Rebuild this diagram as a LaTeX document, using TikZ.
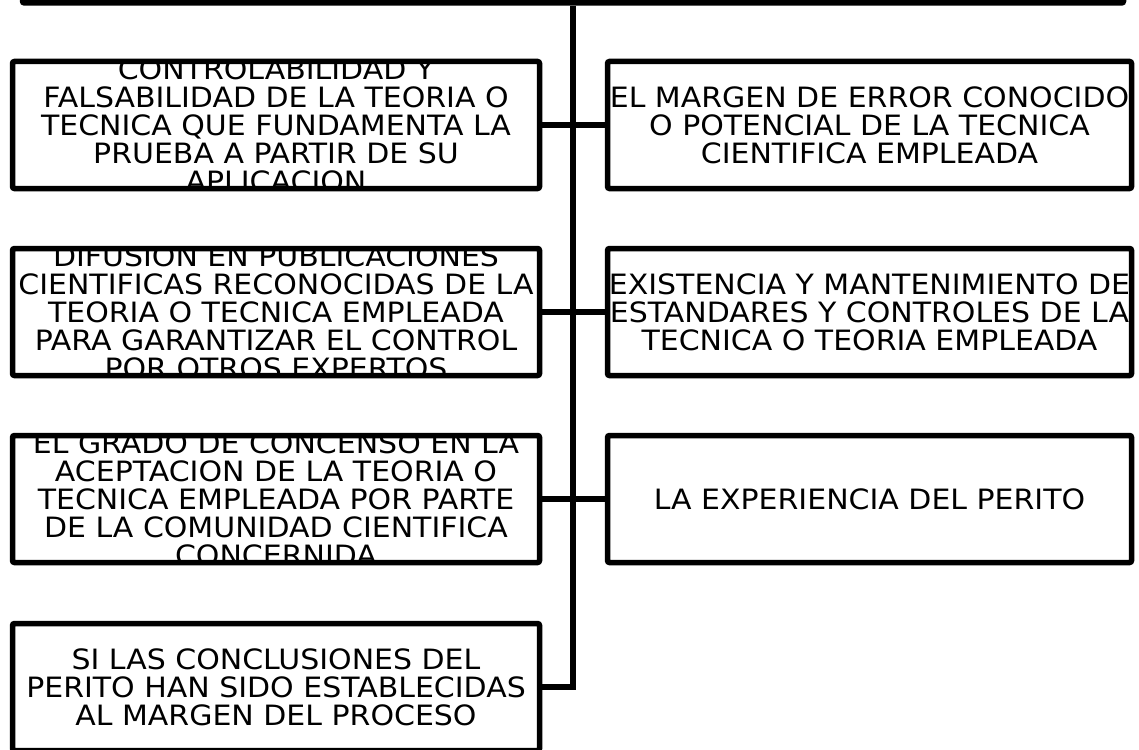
\documentclass[tikz,border=0pt]{standalone}
\usepackage{fontspec}
\setmainfont{DejaVu Sans}[FakeStretch=1.07]
\usepackage{tikz}
\usetikzlibrary{positioning}

\begin{document}
\begin{tikzpicture}[x=1pt,y=1pt,
    every node/.style={inner sep=0pt},
    caja/.style={draw, line width=5.5pt, rounded corners=2pt, minimum height=127pt},
    izq/.style={caja, minimum width=527pt},
    der/.style={caja, minimum width=524pt},
    texto/.style={path picture={\node[align=center, font=\fontsize{28}{28}\selectfont]
        at (path picture bounding box.center) {#1};}},
    enlace/.style={line width=5.5pt}]
    \useasboundingbox (0,0) rectangle (1139,-749);
    \node [caja, minimum width=1101pt, minimum height=100pt] (titulo) at (573,47) {};
    \node [izq, texto={CONTROLABILIDAD Y\\FALSABILIDAD DE LA TEORIA O\\TECNICA QUE FUNDAMENTA LA\\PRUEBA A PARTIR DE SU\\APLICACION}] (c1) at (276,-125) {};
    \node [der, texto={EL MARGEN DE ERROR CONOCIDO\\O POTENCIAL DE LA TECNICA\\CIENTIFICA EMPLEADA}] (c2) at (869.5,-125) {};
    \node [izq, texto={DIFUSION EN PUBLICACIONES\\CIENTIFICAS RECONOCIDAS DE LA\\TEORIA O TECNICA EMPLEADA\\PARA GARANTIZAR EL CONTROL\\POR OTROS EXPERTOS}] (c3) at (276,-312) {};
    \node [der, texto={EXISTENCIA Y MANTENIMIENTO DE\\ESTANDARES Y CONTROLES DE LA\\TECNICA O TEORIA EMPLEADA}] (c4) at (869.5,-312) {};
    \node [izq, texto={EL GRADO DE CONCENSO EN LA\\ACEPTACION DE LA TEORIA O\\TECNICA EMPLEADA POR PARTE\\DE LA COMUNIDAD CIENTIFICA\\CONCERNIDA}] (c5) at (276,-499) {};
    \node [der, texto={LA EXPERIENCIA DEL PERITO}] (c6) at (869.5,-499) {};
    \node [izq, texto={SI LAS CONCLUSIONES DEL\\PERITO HAN SIDO ESTABLECIDAS\\AL MARGEN DEL PROCESO}] (c7) at (276,-687) {};
    \draw [enlace] (titulo.south) |- (c7.east);
    \draw [enlace] (c1.east) -- (c2.west);
    \draw [enlace] (c3.east) -- (c4.west);
    \draw [enlace] (c5.east) -- (c6.west);
\end{tikzpicture}
\end{document}
